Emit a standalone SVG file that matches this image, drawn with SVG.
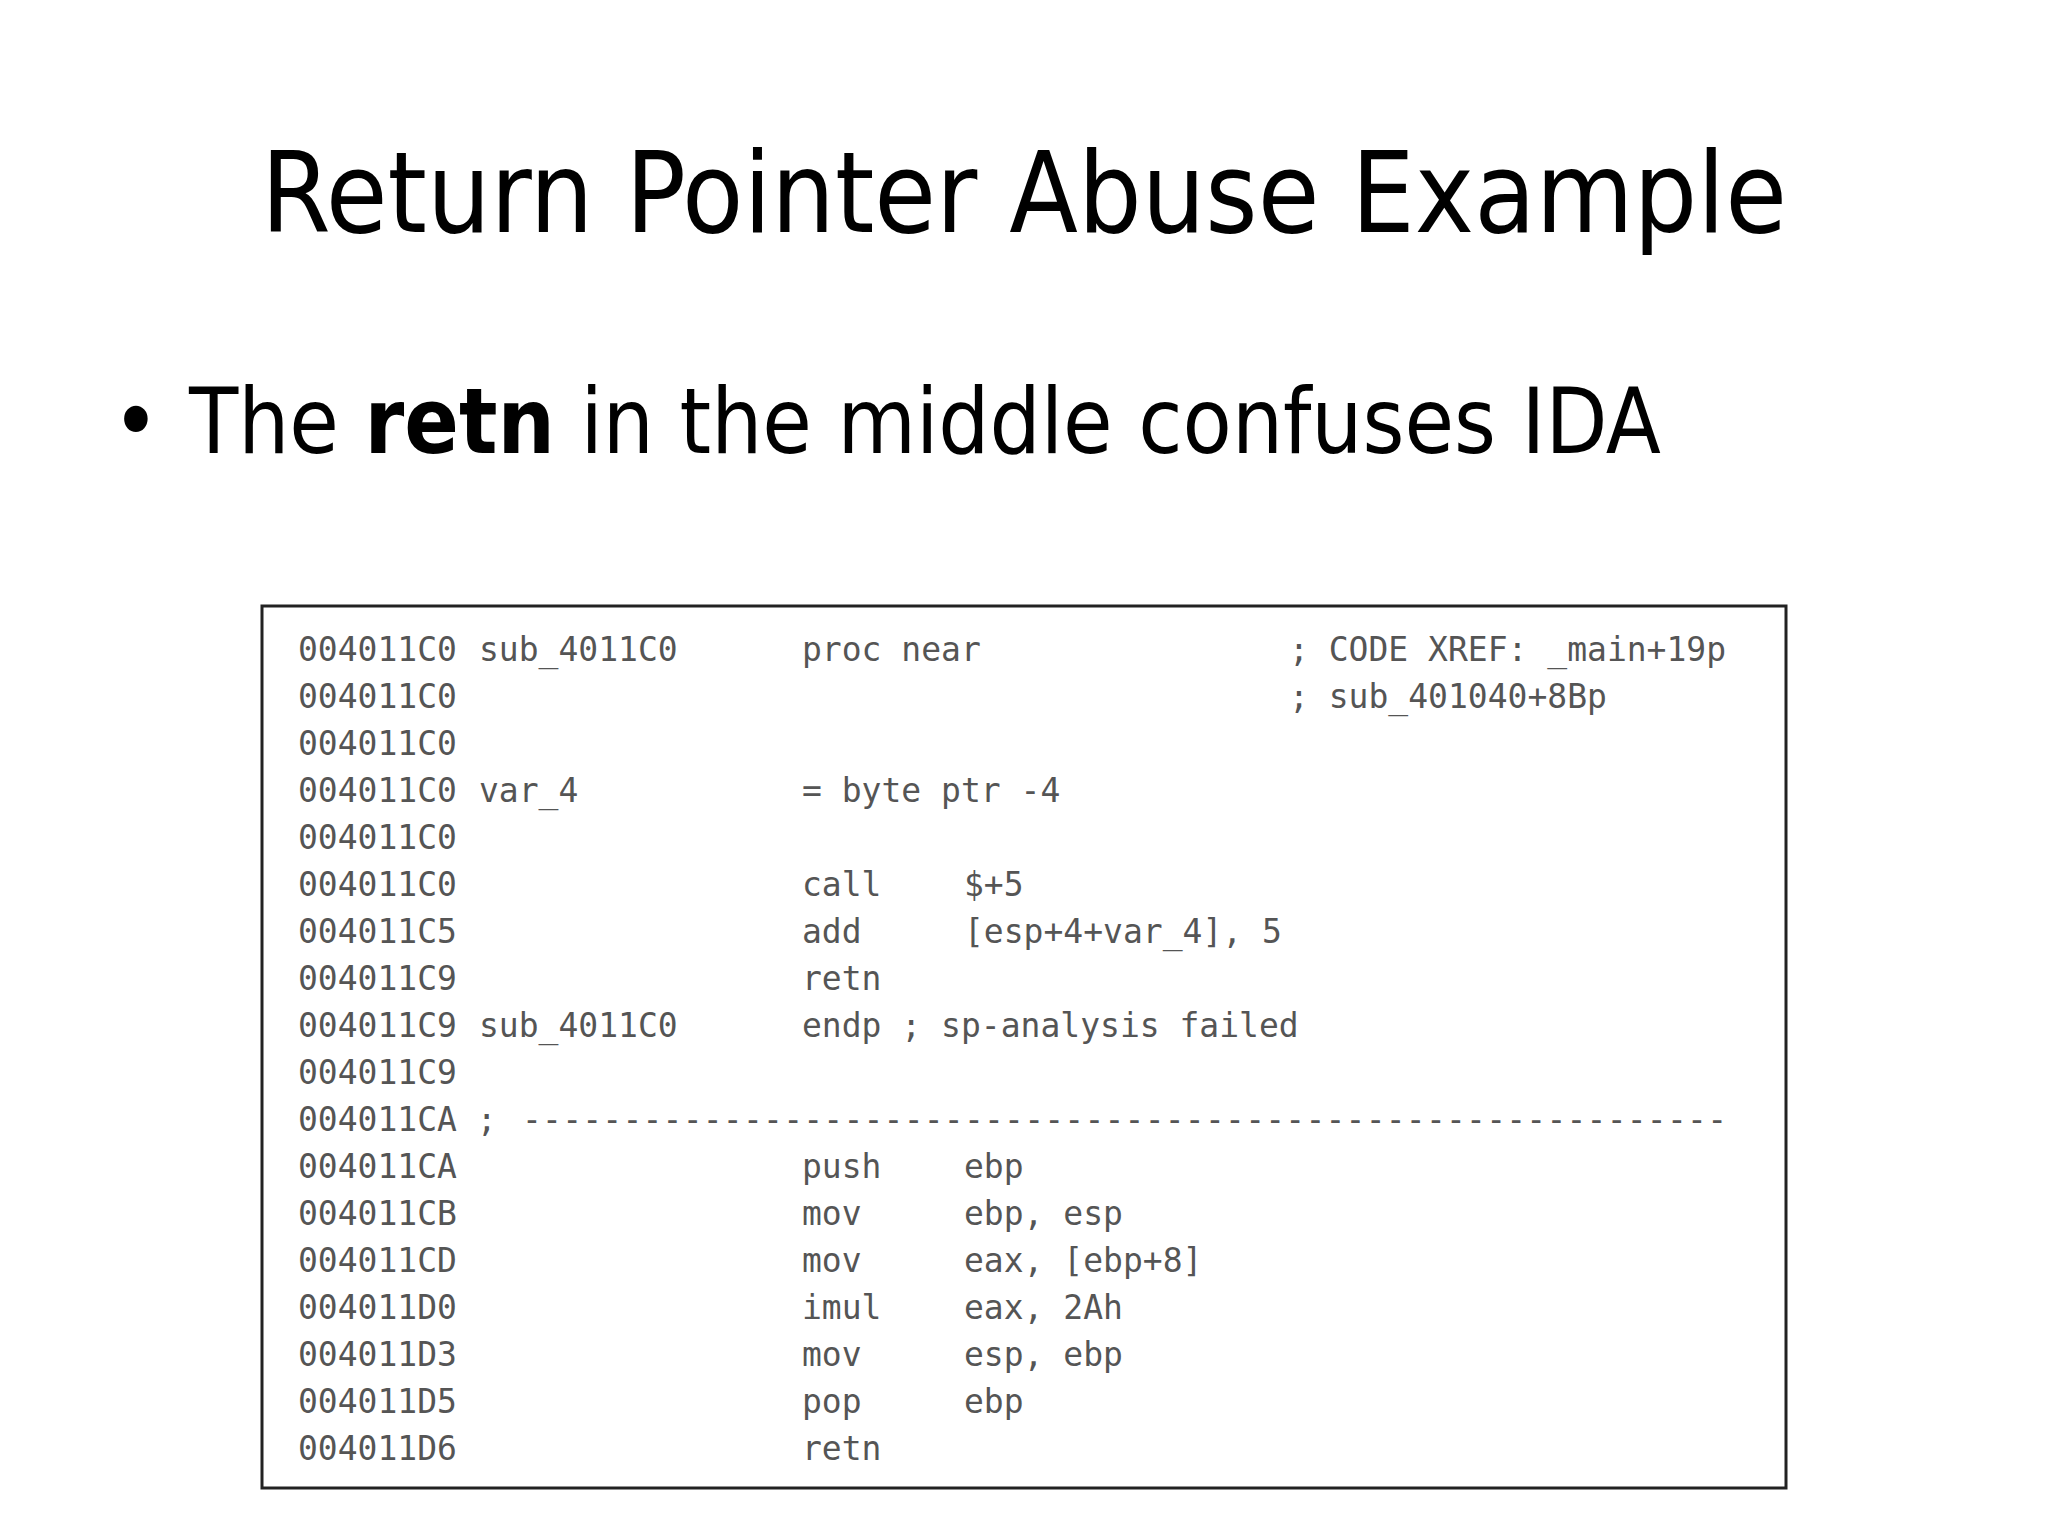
<svg xmlns="http://www.w3.org/2000/svg" width="2048" height="1536" viewBox="0 0 2048 1536">
<style>
.t{font-family:"DejaVu Sans Condensed","DejaVu Sans",sans-serif;fill:#000}
.c{font-family:"DejaVu Sans Mono","Liberation Mono",monospace;font-size:33px;fill:#555}
</style>
<rect width="2048" height="1536" fill="#fff"/>
<g id="title"><text class="t" x="261" y="232" font-size="112" textLength="1526" lengthAdjust="spacingAndGlyphs">Return Pointer Abuse Example</text></g>
<g id="bullet"><text class="t" x="112" y="453" font-size="90">•</text>
<text class="t" x="189" y="453" font-size="90" textLength="1472" lengthAdjust="spacingAndGlyphs">The <tspan font-weight="bold">retn</tspan> in the middle confuses IDA</text></g>
<g id="code">
<rect x="262" y="606" width="1524" height="882" fill="#fff" stroke="#222" stroke-width="3"/>
<g class="c">
<text x="298" y="661">004011C0</text><text x="479" y="661">sub_4011C0</text><text x="802" y="661">proc near</text><text x="1289" y="661">; CODE XREF: _main+19p</text>
<text x="298" y="708">004011C0</text><text x="1289" y="708">; sub_401040+8Bp</text>
<text x="298" y="755">004011C0</text>
<text x="298" y="802">004011C0</text><text x="479" y="802">var_4</text><text x="802" y="802">= byte ptr -4</text>
<text x="298" y="849">004011C0</text>
<text x="298" y="896">004011C0</text><text x="802" y="896">call</text><text x="964" y="896">$+5</text>
<text x="298" y="943">004011C5</text><text x="802" y="943">add</text><text x="964" y="943">[esp+4+var_4], 5</text>
<text x="298" y="990">004011C9</text><text x="802" y="990">retn</text>
<text x="298" y="1037">004011C9</text><text x="479" y="1037">sub_4011C0</text><text x="802" y="1037">endp ; sp-analysis failed</text>
<text x="298" y="1084">004011C9</text>
<text x="298" y="1131">004011CA ;</text><text x="522" y="1131" textLength="1205" lengthAdjust="spacing">------------------------------------------------------------</text>
<text x="298" y="1178">004011CA</text><text x="802" y="1178">push</text><text x="964" y="1178">ebp</text>
<text x="298" y="1225">004011CB</text><text x="802" y="1225">mov</text><text x="964" y="1225">ebp, esp</text>
<text x="298" y="1272">004011CD</text><text x="802" y="1272">mov</text><text x="964" y="1272">eax, [ebp+8]</text>
<text x="298" y="1319">004011D0</text><text x="802" y="1319">imul</text><text x="964" y="1319">eax, 2Ah</text>
<text x="298" y="1366">004011D3</text><text x="802" y="1366">mov</text><text x="964" y="1366">esp, ebp</text>
<text x="298" y="1413">004011D5</text><text x="802" y="1413">pop</text><text x="964" y="1413">ebp</text>
<text x="298" y="1460">004011D6</text><text x="802" y="1460">retn</text>
</g></g>
</svg>
